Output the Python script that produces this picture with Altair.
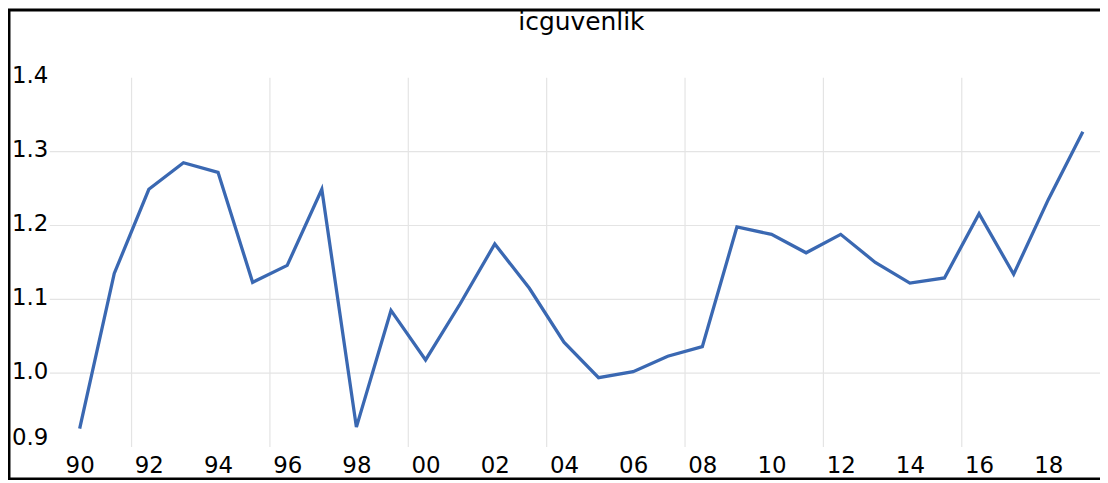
import altair as alt
import pandas as pd

years = list(range(1990, 2020))
values = [0.925, 1.135, 1.249, 1.285, 1.272, 1.123, 1.146, 1.249, 0.927, 1.085,
          1.018, 1.094, 1.175, 1.115, 1.042, 0.994, 1.002, 1.023, 1.036, 1.198,
          1.188, 1.163, 1.188, 1.150, 1.122, 1.129, 1.216, 1.134, 1.235, 1.327]
x_ticks = list(range(1990, 2019, 2))
y_ticks = [0.9, 1.0, 1.1, 1.2, 1.3, 1.4]
h_grid = [1.0, 1.1, 1.2, 1.3]
v_grid = [1991.5, 1995.5, 1999.5, 2003.5, 2007.5, 2011.5, 2015.5]
title_text = "icguvenlik"

W, H = 1055, 371
FONT = "DejaVu Sans"
x_dom = [1989.137, 2019.496]
y_dom = [0.9, 1.4]

df = pd.DataFrame({"year": years, "value": values})
xs = alt.Scale(domain=x_dom, nice=False, zero=False)
ys = alt.Scale(domain=y_dom, nice=False, zero=False)

x_axis = alt.Axis(values=x_ticks, grid=False, domain=False, ticks=False,
                  labelExpr="substring(toString(datum.value), 2)",
                  labelFont=FONT, labelFontSize=23, labelColor="black",
                  labelPadding=8, labelOverlap=False, labelFlush=False, title=None)
y_axis = alt.Axis(values=y_ticks, grid=False, domain=False, ticks=False,
                  format=".1f", labelFont=FONT, labelFontSize=23,
                  labelColor="black", labelPadding=2, labelFlush=False, title=None,
                  labelOffset={"condition": {"test": "datum.value < 0.95", "value": -10},
                               "value": -2})

frame = alt.Chart(pd.DataFrame({"a": [0]})).mark_rect(
    fillOpacity=0, stroke="black", strokeWidth=3
).encode(x=alt.value(-41), x2=alt.value(W + 20), y=alt.value(-68), y2=alt.value(403))

hgrid = alt.Chart(pd.DataFrame({"g": h_grid})).mark_rule(
    color="#e4e4e4", strokeWidth=1.2
).encode(y=alt.Y("g:Q", scale=ys, axis=y_axis))

vgrid = alt.Chart(pd.DataFrame({"g": v_grid})).mark_rule(
    color="#e4e4e4", strokeWidth=1.2
).encode(x=alt.X("g:Q", scale=xs, axis=x_axis))

line = alt.Chart(df).mark_line(color="#3A68B2", strokeWidth=3.3).encode(
    x=alt.X("year:Q", scale=xs, axis=x_axis),
    y=alt.Y("value:Q", scale=ys, axis=y_axis),
)

title = alt.Chart(pd.DataFrame({"t": [title_text]})).mark_text(
    font=FONT, fontSize=25, color="black", align="center", baseline="middle"
).encode(text="t:N", x=alt.value(534), y=alt.value(-56))

chart = alt.layer(frame, hgrid, vgrid, line, title).properties(
    width=W, height=H,
    autosize=alt.AutoSizeParams(type="none"),
    padding={"left": 42, "top": 69, "right": 0, "bottom": 32},
    background="white",
).configure_view(stroke=None)

chart.save("out.html", embed_options={"renderer": "svg", "actions": False})
